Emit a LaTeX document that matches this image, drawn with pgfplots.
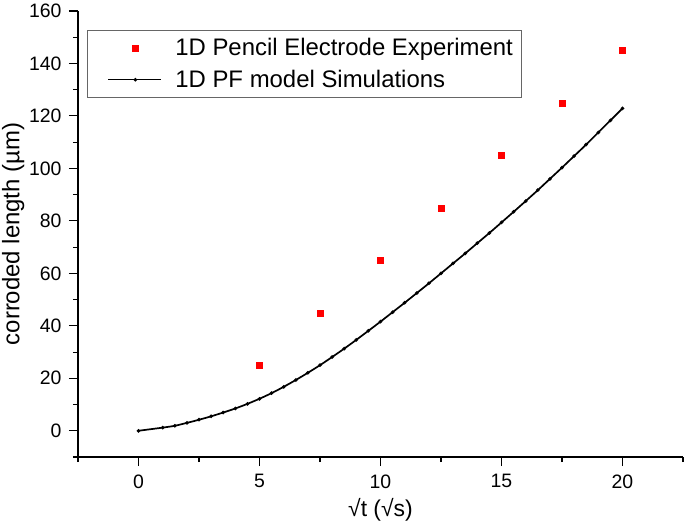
\documentclass[border=0pt]{standalone}
\usepackage{pgfplots}
\pgfplotsset{compat=1.18}
\usepackage{fontspec}
\setmainfont{Liberation Sans}
\begin{document}
\begin{tikzpicture}[x=1bp,y=1bp]
\begin{axis}[
  width=605bp, height=446bp, scale only axis,
  xmin=-2.5, xmax=22.5, ymin=-10, ymax=160,
  axis lines=left,
  axis line style={-, line width=1.1bp},
  xtick={0,5,10,15,20},
  minor xtick={-2.5,2.5,7.5,12.5,17.5,22.5},
  ytick={0,20,40,60,80,100,120,140,160},
  minor ytick={-10,10,30,50,70,90,110,130,150},
  tick align=outside,
  major tick length=9bp, minor tick length=5bp,
  every tick/.style={black, line width=1.1bp},
  tick label style={font=\fontsize{19.5}{19.5}\selectfont},
  /pgf/number format/assume math mode=true,
  xticklabel style={yshift=-5bp},
  yticklabel style={xshift=-4bp},
  xlabel={√t (√s)},
  ylabel={corroded length (µm)},
  xlabel style={font=\fontsize{23}{23}\selectfont, at={(axis description cs:0.5,-0.085)}, anchor=north},
  ylabel style={font=\fontsize{24}{24}\selectfont, at={(axis description cs:-0.126,0.5)}, anchor=north, inner sep=0pt},
  legend style={at={(axis description cs:0.015,0.957)}, anchor=north west,
    draw=gray!80!black, line width=0.6bp, font=\fontsize{24}{24}\selectfont,
    inner xsep=6bp, inner ysep=6bp, row sep=9bp},
  legend cell align=left,
  clip=false,
]
\addplot[only marks, mark=square*, mark size=3bp, color=red,
  legend image code/.code={\path[draw=none, fill=none] (0bp,0bp) -- (80bp,0bp); \fill[red] (42bp,0bp) ++(-3bp,-3bp) rectangle ++(6bp,6bp);}] coordinates {
  (5,25) (7.5,45) (10,65) (12.5,85) (15,105) (17.5,125) (20,145)
};
\addlegendentry{1D Pencil Electrode Experiment}
\addplot[black, line width=1.7bp, smooth, mark=*, mark size=0.8bp,
  legend image code/.code={\path[draw=none, fill=none] (0bp,0bp) -- (80bp,0bp); \draw[black, line width=0.6bp] (15bp,0bp) -- (68bp,0bp); \fill[black] (42bp,0bp) circle (0.8bp);}] coordinates {
  (0,0) (1,1.2) (1.5,1.9) (2,3.0) (2.5,4.2) (3,5.5) (3.5,6.95) (4,8.5) (4.5,10.25)
  (5,12.2) (5.5,14.35) (6,16.75) (6.5,19.35) (7,22.1) (7.5,25.0) (8,28.1) (8.5,31.3)
  (9,34.65) (9.5,38.1) (10,41.6) (10.5,45.2) (11,48.8) (11.5,52.5) (12,56.2)
  (12.5,60.0) (13,63.8) (13.5,67.6) (14,71.5) (14.5,75.4) (15,79.4) (15.5,83.45)
  (16,87.55) (16.5,91.7) (17,96.0) (17.5,100.3) (18,104.7) (18.5,109.1) (19,113.7)
  (19.5,118.3) (20,122.9)
};
\addlegendentry{1D PF model Simulations}
\end{axis}
\pgfresetboundingbox
\path[use as bounding box] ([shift={(-78bp,-75bp)}]current axis.south west) rectangle ([shift={(607bp,457bp)}]current axis.south west);
\end{tikzpicture}
\end{document}
